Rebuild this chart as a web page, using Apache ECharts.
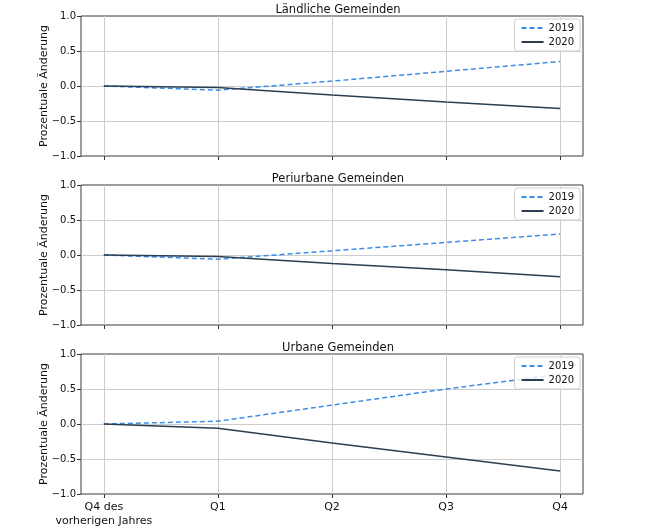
<!DOCTYPE html>
<html>
<head>
<meta charset="utf-8">
<script src="https://cdn.jsdelivr.net/npm/echarts@6/dist/echarts.min.js"></script>
<style>html,body{margin:0;padding:0;background:#fff}#c{width:648px;height:531px}</style>
</head>
<body>
<div id="c"></div>
<script>
const categories = ['Q4 des\nvorherigen Jahres', 'Q1', 'Q2', 'Q3', 'Q4'];
const panelTitles = ['Ländliche Gemeinden', 'Periurbane Gemeinden', 'Urbane Gemeinden'];
const yTicks = [-1.0, -0.5, 0.0, 0.5, 1.0];
const rural2019 = [0, -0.06, 0.07, 0.21, 0.35];
const rural2020 = [0, -0.02, -0.13, -0.23, -0.32];
const peri2019 = [0, -0.06, 0.06, 0.18, 0.30];
const peri2020 = [0, -0.02, -0.12, -0.21, -0.31];
const urban2019 = [0, 0.04, 0.27, 0.50, 0.71];
const urban2020 = [0, -0.06, -0.27, -0.47, -0.67];

const panels = [[rural2019, rural2020], [peri2019, peri2020], [urban2019, urban2020]];
const FONT = 'DejaVu Sans';
const tops = [16, 185, 354];
const H = 140;
const idx = categories.map((_, i) => i);
const fmtY = v => (v < 0 ? '\u2212' : '') + Math.abs(v).toFixed(1);

const grids = [], xAxes = [], yAxes = [], series = [], titles = [], legends = [];
panels.forEach((p, k) => {
  grids.push({left: 81, right: 65, top: tops[k], height: H, show: true, borderColor: '#3a3a3a', borderWidth: 1, backgroundColor: '#fff', containLabel: false});
  titles.push({text: panelTitles[k], left: 333, top: tops[k] - 17, textAlign: 'center',
    textStyle: {fontFamily: FONT, fontSize: 11.5, fontWeight: 'normal', color: '#111'}});
  xAxes.push({type: 'value', gridIndex: k, min: -0.2, max: 4.2,
    axisLine: {show: false, onZero: false},
    axisTick: {show: true, inside: false, customValues: idx, length: 4, lineStyle: {color: '#333'}},
    axisLabel: {show: k === 2, customValues: idx, formatter: v => categories[Math.round(v)] || '',
      fontFamily: FONT, fontSize: 11, color: '#111', margin: 6, lineHeight: 14},
    splitLine: {show: true, lineStyle: {color: '#cccccc', width: 1}}
  });
  yAxes.push({type: 'value', gridIndex: k, min: yTicks[0], max: yTicks[yTicks.length - 1], interval: 0.5,
    name: 'Prozentuale Änderung', nameLocation: 'middle', nameGap: 31, nameRotate: 90, nameMoveOverlap: false,
    nameTextStyle: {fontFamily: FONT, fontSize: 11, color: '#111'},
    axisLine: {show: false, onZero: false},
    axisTick: {show: true, inside: false, length: 4, lineStyle: {color: '#333'}},
    axisLabel: {formatter: fmtY, fontFamily: FONT, fontSize: 10, color: '#111', margin: 5},
    splitLine: {show: true, showMinLine: false, showMaxLine: false, lineStyle: {color: '#cccccc', width: 1}}
  });
  series.push({name: '2019', type: 'line', xAxisIndex: k, yAxisIndex: k, data: p[0].map((v, i) => [i, v]),
    symbol: 'none', color: '#3b8de6', lineStyle: {type: [5, 3], width: 1.5, color: '#3b8de6'}, z: 3});
  series.push({name: '2020', type: 'line', xAxisIndex: k, yAxisIndex: k, data: p[1].map((v, i) => [i, v]),
    symbol: 'none', color: '#2c3e50', lineStyle: {type: 'solid', width: 1.5, color: '#2c3e50'}, z: 3});
  legends.push({data: ['2019', '2020'], orient: 'vertical', right: 68, top: tops[k] + 3,
    itemWidth: 22, itemHeight: 10, itemGap: 4, padding: [4, 6, 4, 6],
    itemStyle: {opacity: 0},
    backgroundColor: 'rgba(255,255,255,0.8)', borderColor: '#d0d0d0', borderWidth: 1, borderRadius: 3,
    textStyle: {fontFamily: FONT, fontSize: 10, color: '#111'}, selectedMode: false});
});

const chart = echarts.init(document.getElementById('c'), null, {renderer: 'canvas'});
chart.setOption({animation: false, backgroundColor: '#fff', title: titles, grid: grids, xAxis: xAxes, yAxis: yAxes, legend: legends, series: series});
</script>
</body>
</html>
